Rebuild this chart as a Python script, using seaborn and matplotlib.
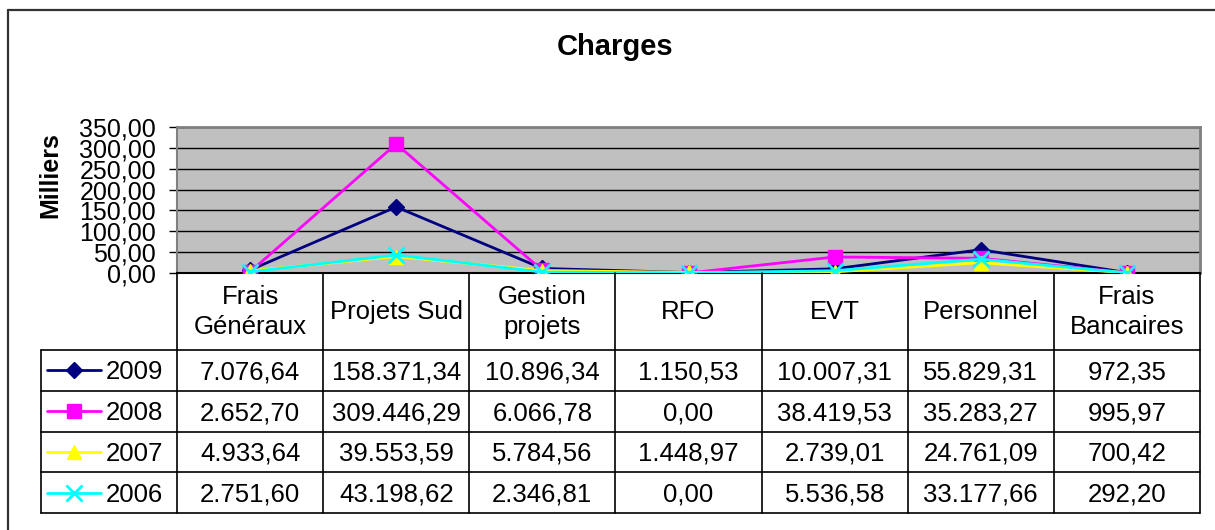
import numpy as np
import pandas as pd
import seaborn as sns
import matplotlib.pyplot as plt
from matplotlib.lines import Line2D
from matplotlib.ticker import FuncFormatter, MultipleLocator

categories = ["Frais\nGénéraux", "Projets Sud", "Gestion\nprojets", "RFO", "EVT",
              "Personnel", "Frais\nBancaires"]
years = ["2009", "2008", "2007", "2006"]
v2009 = [7076.64, 158371.34, 10896.34, 1150.53, 10007.31, 55829.31, 972.35]
v2008 = [2652.70, 309446.29, 6066.78, 0.00, 38419.53, 35283.27, 995.97]
v2007 = [4933.64, 39553.59, 5784.56, 1448.97, 2739.01, 24761.09, 700.42]
v2006 = [2751.60, 43198.62, 2346.81, 0.00, 5536.58, 33177.66, 292.20]
series = [v2009, v2008, v2007, v2006]

colors = ["#000080", "#FF00FF", "#FFFF00", "#00FFFF"]
markers = ["D", "s", "^", "x"]
msizes = [8, 10, 10, 11]

rows = []
for y, vals in zip(years, series):
    for i, v in enumerate(vals):
        rows.append({"year": y, "pos": i, "value": v / 1000.0})
df = pd.DataFrame(rows)

sns.set_style("white")
plt.rcParams["font.family"] = ["Liberation Sans", "DejaVu Sans"]
plt.rcParams["text.color"] = "black"
plt.rcParams["ytick.color"] = "black"

W, H = 1215, 530
fig = plt.figure(figsize=(W / 100, H / 100), dpi=100)


def box(x0, y0, x1, y1):
    # pixel box (top-left origin) -> figure fraction
    return [x0 / W, 1 - y1 / H, (x1 - x0) / W, (y1 - y0) / H]


# outer chart border (left and top visible)
fig.add_artist(Line2D([8 / W, 8 / W], [0, 1 - 10 / H], transform=fig.transFigure,
                      color="#333333", lw=1.6))
fig.add_artist(Line2D([8 / W, 1], [1 - 10 / H, 1 - 10 / H], transform=fig.transFigure,
                      color="#333333", lw=1.6))

fig.text(615 / W, 1 - 47 / H, "Charges", ha="center", va="center",
         fontsize=21, fontweight="bold")
fig.text(50 / W, 1 - 175 / H, "Milliers", ha="center", va="center",
         rotation=90, fontsize=18, fontweight="bold")

# plot area
ax = fig.add_axes(box(177, 127, 1200, 273))
ax.set_facecolor("#C0C0C0")
for y, c, m, ms in zip(years, colors, markers, msizes):
    d = df[df["year"] == y]
    sns.lineplot(data=d, x="pos", y="value", color=c, marker=m, markersize=ms,
                 markeredgecolor=c, markeredgewidth=2 if m == "x" else 1,
                 linewidth=2, ax=ax, legend=False, zorder=3)
ax.set_xlim(-0.5, len(categories) - 0.5)
ax.set_ylim(0, 350)
ax.yaxis.set_major_locator(MultipleLocator(50))
ax.yaxis.set_major_formatter(FuncFormatter(lambda v, p: f"{v:.2f}".replace(".", ",")))
ax.set_xticks([])
ax.set_xlabel("")
ax.set_ylabel("")
ax.tick_params(axis="y", direction="out", length=6, width=1, color="black",
               labelsize=18, pad=9, left=True)
ax.grid(axis="y", color="black", linewidth=1)
ax.set_axisbelow(True)
for s in ["top", "right"]:
    ax.spines[s].set_color("#808080")
    ax.spines[s].set_linewidth(2)
ax.spines["left"].set_color("#808080")
ax.spines["left"].set_linewidth(1.5)
ax.spines["bottom"].set_color("black")
ax.spines["bottom"].set_linewidth(1.5)

# data table
unit = (1200 - 177) / len(categories)
leg_w = (177 - 41) / unit
hdr = 77 / 40.75
nrow = len(years)
tax = fig.add_axes(box(41, 273, 1200, 513))
tax.set_xlim(-0.5 - leg_w, len(categories) - 0.5)
tax.set_ylim(hdr + nrow, 0)
tax.axis("off")

lk = dict(color="black", lw=1.2, clip_on=False)
# header verticals
for i in range(len(categories) + 1):
    tax.plot([i - 0.5, i - 0.5], [0, hdr + nrow], **lk)
tax.plot([-0.5 - leg_w, -0.5 - leg_w], [hdr, hdr + nrow], **lk)
for r in range(nrow + 1):
    tax.plot([-0.5 - leg_w, len(categories) - 0.5], [hdr + r, hdr + r], **lk)

for i, cat in enumerate(categories):
    tax.text(i, hdr / 2 + 0.02, cat, ha="center", va="center", fontsize=18.5,
             linespacing=1.3)


def fmt(v):
    s = f"{v:,.2f}"
    return s.replace(",", "X").replace(".", ",").replace("X", ".")


def pxu(px):
    return (px - 177) / unit - 0.5


for r, (y, vals, c, m, ms) in enumerate(zip(years, series, colors, markers, msizes)):
    yc = hdr + r + 0.5
    tax.plot([pxu(47), pxu(101)], [yc, yc], color=c, lw=2, clip_on=False)
    tax.plot([pxu(74)], [yc], marker=m, color=c, markersize=ms,
             markeredgewidth=2 if m == "x" else 1, clip_on=False)
    tax.text(pxu(106), yc + 0.05, y, ha="left", va="center", fontsize=18.5)
    for i, v in enumerate(vals):
        tax.text(i, yc + 0.05, fmt(v), ha="center", va="center", fontsize=18.5)

fig.savefig("out.png", dpi=100)
